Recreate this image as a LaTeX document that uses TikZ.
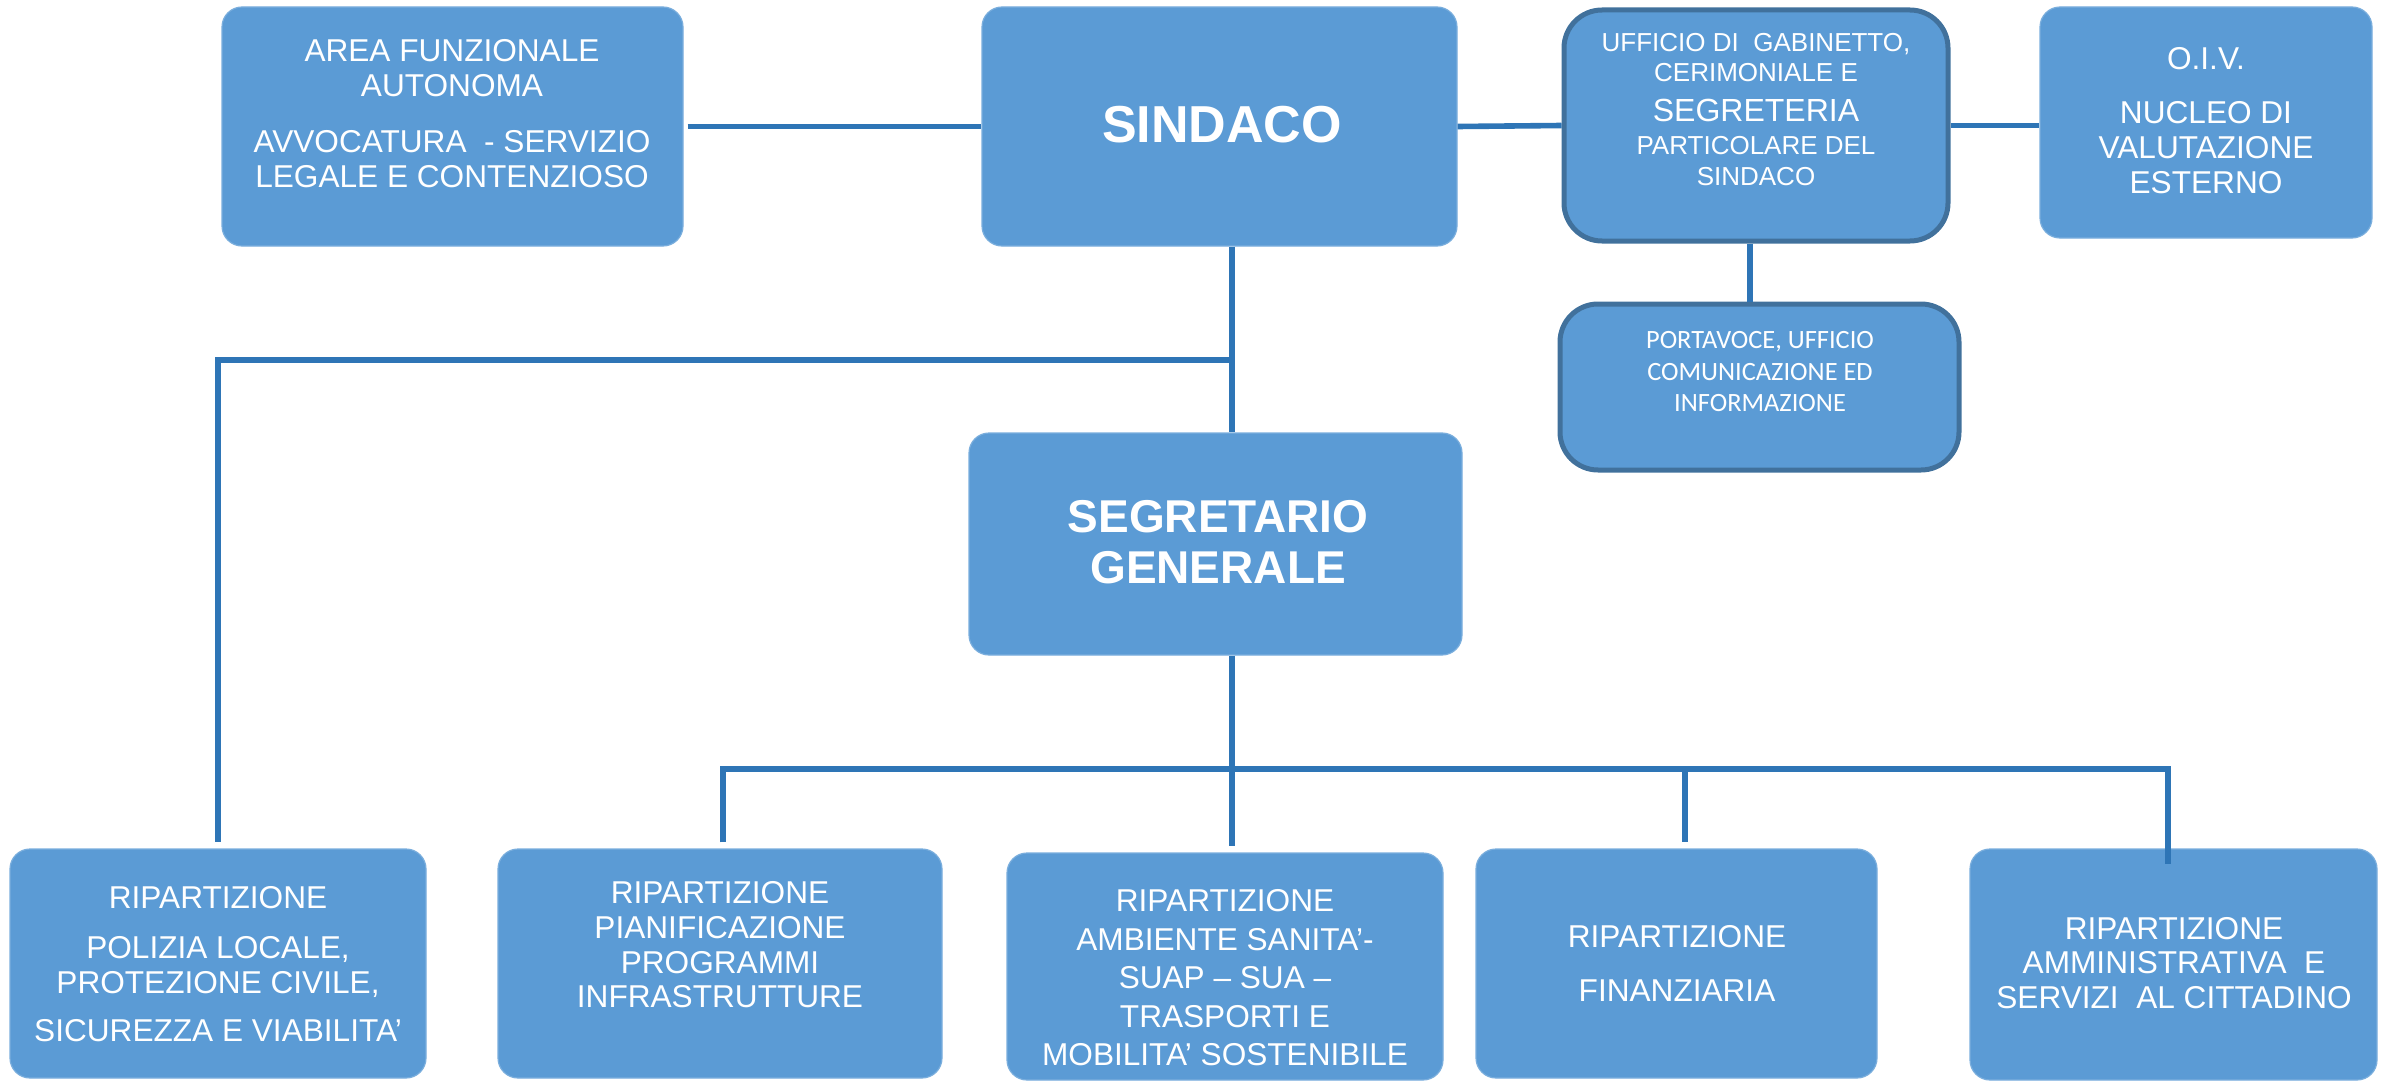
\documentclass[tikz,border=0pt]{standalone}
\usepackage{fontspec}
\setmainfont{Liberation Sans}
\newfontfamily\calibrifont{Carlito}
\usetikzlibrary{fit}
\definecolor{boxfill}{HTML}{5B9BD5}
\definecolor{conncol}{HTML}{2E75B6}
\definecolor{darkedge}{HTML}{41719C}
\definecolor{lightedge}{HTML}{7AAEDD}
\begin{document}
\begin{tikzpicture}[x=0.5pt,y=-0.5pt,
  box/.style={fill=boxfill, draw=lightedge, line width=0.6pt, rounded corners=10pt, inner sep=0pt},
  boxb/.style={fill=boxfill, draw=darkedge, line width=2.5pt, rounded corners=19pt, inner sep=0pt},
  txt/.style={text=white, align=center, inner sep=0pt, font=\fontsize{15.8}{17.5}\selectfont},
  conn/.style={draw=conncol, line width=2.8pt, line join=miter}]
\useasboundingbox (0,0) rectangle (2382,1081);
% boxes
\node[box, fit={(222,7) (683,246)}] (area) {};
\node[box, fit={(982,7) (1457,246)}] (sindaco) {};
\node[boxb, fit={(1564,10) (1948,241)}] (uff) {};
\node[box, fit={(2040,7) (2372,238)}] (oiv) {};
\node[boxb, fit={(1560,304) (1959,470)}] (port) {};
\node[box, fit={(969,433) (1462,655)}] (segr) {};
\node[box, fit={(10,849) (426,1078)}] (r1) {};
\node[box, fit={(498,849) (942,1078)}] (r2) {};
\node[box, fit={(1007,853) (1443,1080)}] (r3) {};
\node[box, fit={(1476,849) (1877,1078)}] (r4) {};
\node[box, fit={(1970,849) (2377,1080)}] (r5) {};
% texts
\node[txt] (area-t) at (452,114) {AREA FUNZIONALE\\AUTONOMA\\[10.5pt]AVVOCATURA\ \ - SERVIZIO\\LEGALE E CONTENZIOSO};
\node[txt, font=\fontsize{26}{30}\selectfont\bfseries] (sindaco-t) at (1222,125) {SINDACO};
\node[txt, font=\fontsize{13}{15}\selectfont] (uff-t1) at (1756,58) {UFFICIO DI\ \ GABINETTO,\\CERIMONIALE E};
\node[txt, font=\fontsize{16}{18}\selectfont] (uff-t2) at (1756,110) {SEGRETERIA};
\node[txt, font=\fontsize{13}{15.5}\selectfont] (uff-t3) at (1756,161.5) {PARTICOLARE DEL\\SINDACO};
\node[txt] (oiv-t) at (2206,121) {O.I.V.\\[9.5pt]NUCLEO DI\\VALUTAZIONE\\ESTERNO};
\node[txt, font=\calibrifont\fontsize{13.2}{15.75}\selectfont] (port-t) at (1760,372) {PORTAVOCE, UFFICIO\\COMUNICAZIONE ED\\INFORMAZIONE};
\node[txt, font=\fontsize{23}{25.5}\selectfont\bfseries] (segr-t) at (1218,542) {SEGRETARIO\\GENERALE};
\node[txt] (r1-t) at (218,964) {RIPARTIZIONE\\[7.5pt]POLIZIA LOCALE,\\PROTEZIONE CIVILE,\\[6.5pt]SICUREZZA E VIABILITA’};
\node[txt, font=\fontsize{15.8}{17.3}\selectfont] (r2-t) at (720,945) {RIPARTIZIONE\\PIANIFICAZIONE\\PROGRAMMI\\INFRASTRUTTURE};
\node[txt, font=\fontsize{15.8}{19.25}\selectfont] (r3-t) at (1225,978) {RIPARTIZIONE\\AMBIENTE SANITA’-\\SUAP – SUA –\\TRASPORTI E\\MOBILITA’ SOSTENIBILE};
\node[txt] (r4-t) at (1677,963) {RIPARTIZIONE\\[9.5pt]FINANZIARIA};
\node[txt, font=\fontsize{15.8}{17.25}\selectfont] (r5-t) at (2174,963) {RIPARTIZIONE\\AMMINISTRATIVA\ \ E\\SERVIZI\ \ AL CITTADINO};
% junction coordinates
\coordinate (j1) at (1232,360);
\coordinate (j2) at (218,360);
\coordinate (cu) at (1750,0);
\coordinate (bus) at (1232,769);
\coordinate (bl) at (723,769);
\coordinate (b4) at (1685,769);
\coordinate (br) at (2168,769);
\coordinate (e5) at (2168,864);
% connectors
\draw[conn] ([xshift=2pt]area.east) -- (sindaco.west);
\draw[conn] (sindaco.east) -- (uff.west);
\draw[conn] (uff.east) -- (uff.east -| oiv.west);
\draw[conn] (uff.south -| cu) -- (port.north -| cu);
\draw[conn] (sindaco.south -| j1) -- (segr.north -| j1);
\draw[conn] (j1) -- (j2) -- ([yshift=3pt]r1.north -| j2);
\draw[conn] (segr.south -| bus) -- (bus) -- ([yshift=3pt]r3.north -| bus);
\draw[conn] (bl |- r2.north) ++(0,-6) -- (bl) -- (br) -- (e5);
\draw[conn] (b4) -- ([yshift=3pt]r4.north -| b4);
\end{tikzpicture}
\end{document}
